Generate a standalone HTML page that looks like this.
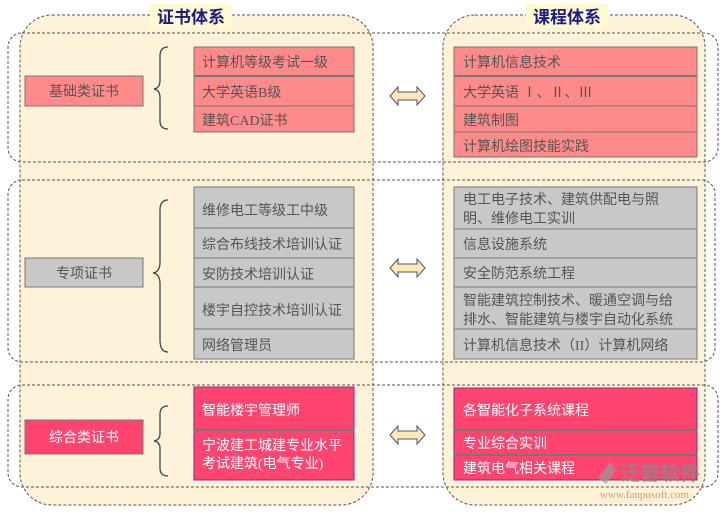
<!DOCTYPE html>
<html><head><meta charset="utf-8"><style>
html,body{margin:0;padding:0;background:#fff;}
svg text{font-family:"Liberation Serif","Noto Sans CJK SC",sans-serif;}
</style></head><body>
<svg width="723" height="510" viewBox="0 0 723 510" xmlns="http://www.w3.org/2000/svg">
<rect x="20" y="15" width="353" height="490" rx="32" fill="#fef3d9" stroke="#555" stroke-dasharray="3,2"/>
<rect x="443" y="15" width="262" height="490" rx="32" fill="#fef3d9" stroke="#555" stroke-dasharray="3,2"/>
<rect x="8" y="33" width="710" height="129" rx="14" fill="none" stroke="#555" stroke-dasharray="3,2"/>
<rect x="8" y="180" width="707" height="182" rx="14" fill="none" stroke="#555" stroke-dasharray="3,2"/>
<rect x="8" y="385" width="710" height="102" rx="14" fill="none" stroke="#555" stroke-dasharray="3,2"/>
<rect x="150" y="4" width="82" height="24" fill="#fffbd0"/>
<text x="191" y="23" font-size="17" fill="#1a1a8a" text-anchor="middle" font-weight="bold">证书体系</text>
<rect x="526" y="4" width="82" height="24" fill="#fffbd0"/>
<text x="567" y="23" font-size="17" fill="#1a1a8a" text-anchor="middle" font-weight="bold">课程体系</text>

<g font-size="14" fill="#555">
<rect x="25" y="76" width="118" height="30" fill="#ff8a8a" stroke="#777"/>
<text x="84" y="96" text-anchor="middle">基础类证书</text>
<rect x="194" y="47" width="160" height="85" fill="#ff8a8a" stroke="#777"/>
<line x1="194" y1="76" x2="354" y2="76" stroke="#777" stroke-width="2"/>
<line x1="194" y1="106" x2="354" y2="106" stroke="#777"/>
<text x="202" y="67">计算机等级考试一级</text>
<text x="202" y="97">大学英语B级</text>
<text x="202" y="125">建筑CAD证书</text>

<rect x="454" y="47" width="243" height="110" fill="#ff8a8a" stroke="#777"/>
<line x1="454" y1="76" x2="697" y2="76" stroke="#777" stroke-width="2"/>
<line x1="454" y1="106" x2="697" y2="106" stroke="#777"/>
<line x1="454" y1="132" x2="697" y2="132" stroke="#777"/>
<text x="463" y="67">计算机信息技术</text>
<text x="463" y="97">大学英语 Ⅰ、Ⅱ、Ⅲ</text>
<text x="463" y="125">建筑制图</text>
<text x="463" y="151">计算机绘图技能实践</text>

<rect x="25" y="258" width="118" height="29" fill="#c8c8c8" stroke="#777"/>
<text x="84" y="278" text-anchor="middle">专项证书</text>
<rect x="194" y="187" width="160" height="172" fill="#c8c8c8" stroke="#777"/>
<line x1="194" y1="228" x2="354" y2="228" stroke="#777"/>
<line x1="194" y1="258" x2="354" y2="258" stroke="#777"/>
<line x1="194" y1="287" x2="354" y2="287" stroke="#777"/>
<line x1="194" y1="329" x2="354" y2="329" stroke="#777"/>
<text x="202" y="215">维修电工等级工中级</text>
<text x="202" y="249">综合布线技术培训认证</text>
<text x="202" y="279">安防技术培训认证</text>
<text x="202" y="315">楼宇自控技术培训认证</text>
<text x="202" y="350">网络管理员</text>

<rect x="454" y="187" width="243" height="172" fill="#c8c8c8" stroke="#777"/>
<line x1="454" y1="229" x2="697" y2="229" stroke="#777"/>
<line x1="454" y1="258" x2="697" y2="258" stroke="#777"/>
<line x1="454" y1="287" x2="697" y2="287" stroke="#777"/>
<line x1="454" y1="329" x2="697" y2="329" stroke="#777"/>
<text x="463" y="204">电工电子技术、建筑供配电与照</text>
<text x="463" y="223">明、维修电工实训</text>
<text x="463" y="249">信息设施系统</text>
<text x="463" y="278">安全防范系统工程</text>
<text x="463" y="305">智能建筑控制技术、暖通空调与给</text>
<text x="463" y="324">排水、智能建筑与楼宇自动化系统</text>
<text x="463" y="350">计算机信息技术（II）计算机网络</text>
</g>

<g font-size="14" fill="#fff">
<rect x="25" y="420" width="118" height="34" fill="#ff4470" stroke="#777"/>
<text x="84" y="442" text-anchor="middle">综合类证书</text>
<rect x="194" y="387" width="160" height="93" fill="#ff4470" stroke="#8a2a8a"/>
<line x1="194" y1="430" x2="354" y2="430" stroke="#777" stroke-width="2"/>
<text x="202" y="415">智能楼宇管理师</text>
<text x="202" y="450">宁波建工城建专业水平</text>
<text x="202" y="468">考试建筑(电气专业)</text>

<rect x="454" y="388" width="243" height="92" fill="#ff4470" stroke="#8a2a8a"/>
<line x1="454" y1="430" x2="697" y2="430" stroke="#777" stroke-width="2"/>
<line x1="454" y1="455" x2="697" y2="455" stroke="#777" stroke-width="2"/>
<text x="463" y="415">各智能化子系统课程</text>
<text x="463" y="448">专业综合实训</text>
<text x="463" y="473">建筑电气相关课程</text>
</g>

<g fill="none" stroke="#445" stroke-width="1.3">
<path d="M168 47 Q160 47 160 56 L160 80 Q160 88 154 89 Q160 90 160 98 L160 121 Q160 129 168 129"/>
<path d="M168 200 Q160 200 160 210 L160 262 Q160 272 153 273 Q160 274 160 284 L160 340 Q160 352 168 352"/>
<path d="M168 406 Q160 406 160 414 L160 434 Q160 440 154 441 Q160 442 160 448 L160 468 Q160 476 168 476"/>
</g>
<g fill="#fde8b8" stroke="#556" stroke-width="1">
<path d="M390 96 L398 87 L398 92 L417 92 L417 87 L425 96 L417 105 L417 100 L398 100 L398 105 Z"/>
<path d="M390 268 L398 259 L398 264 L417 264 L417 259 L425 268 L417 277 L417 272 L398 272 L398 277 Z"/>
<path d="M390 435 L398 426 L398 431 L417 431 L417 426 L425 435 L417 444 L417 439 L398 439 L398 444 Z"/>
</g>
<text x="620" y="480" font-size="20" fill="#888" font-weight="bold" font-family="'Noto Sans CJK SC',sans-serif" opacity="0.8">泛普软件</text>
<text x="600" y="498" font-size="11" fill="#e89070">www.fanpusoft.com</text>
<path d="M598 478 L610 462 L616 470 L606 484 Z" fill="#999" opacity="0.7"/>
</svg>
</body></html>
